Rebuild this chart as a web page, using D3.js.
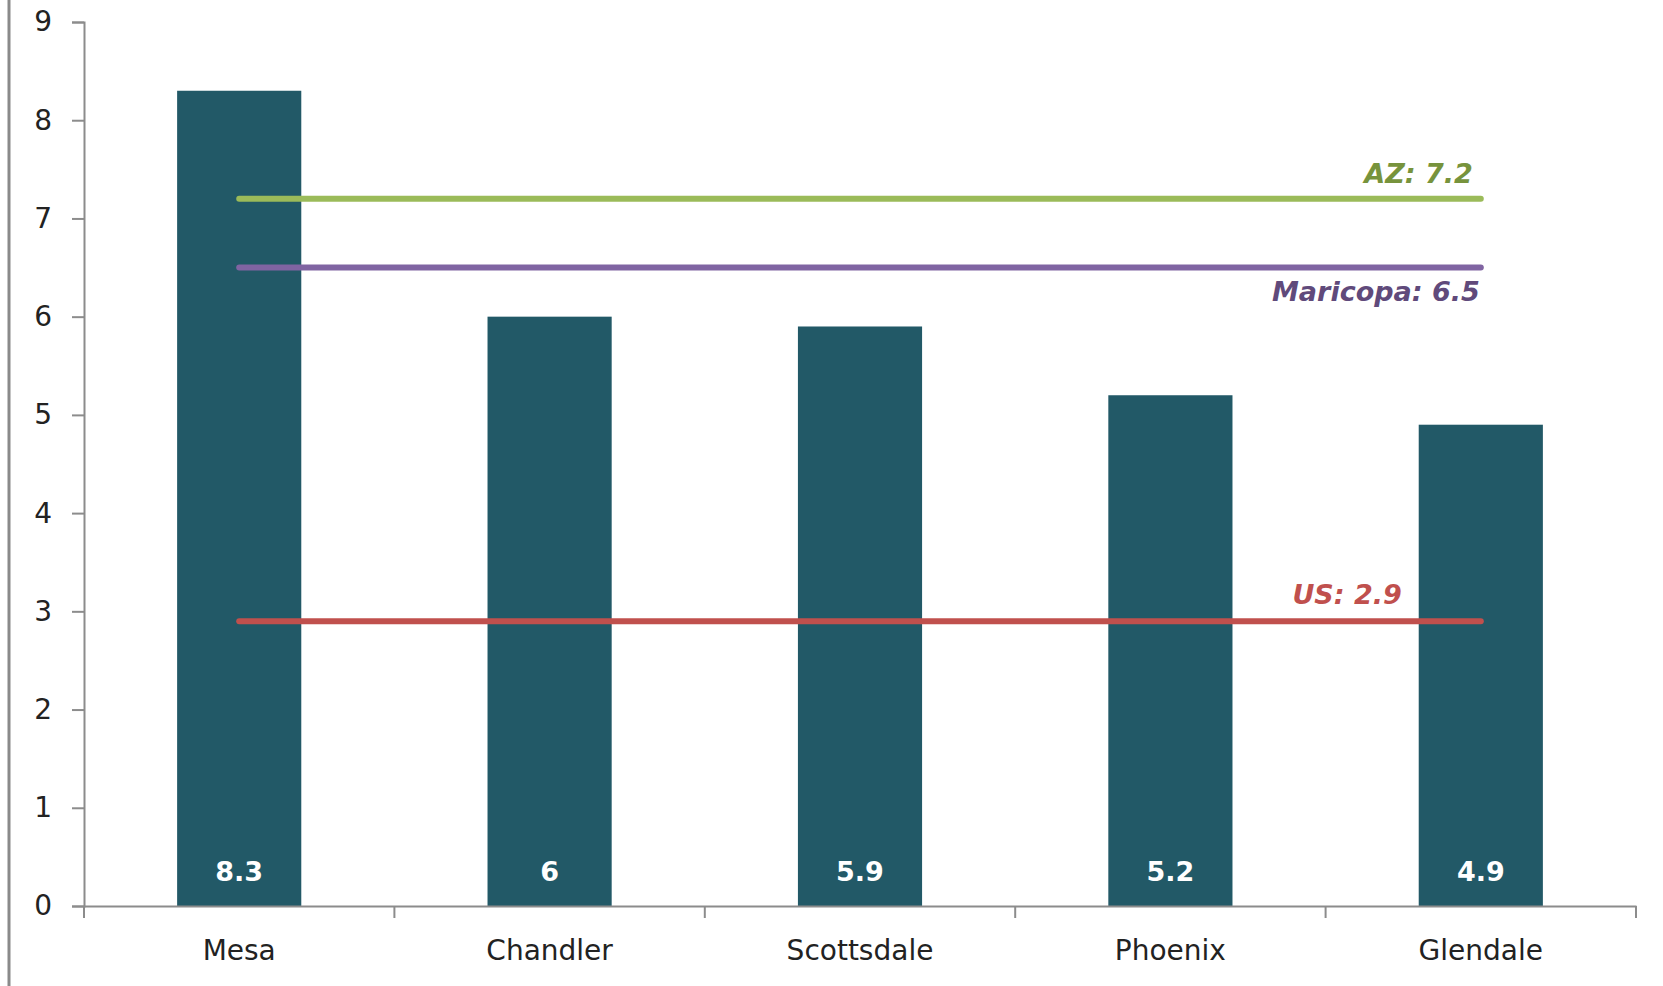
<!DOCTYPE html>
<html><head><meta charset="utf-8">
<script src="https://cdn.jsdelivr.net/npm/d3@7"></script>
<style>
html,body{margin:0;padding:0;background:#fff;}
svg{display:block;font-family:"DejaVu Sans",sans-serif;}
</style></head>
<body>
<svg id="chart" width="1663" height="986"></svg>
<script>
const categories = ["Mesa","Chandler","Scottsdale","Phoenix","Glendale"];
const values = [8.3, 6, 5.9, 5.2, 4.9];
const refNames = ["AZ","Maricopa","US"];
const refValues = [7.2, 6.5, 2.9];
const refColors = ["#9BBB59","#8064A2","#C0504D"];
const refTextColors = ["#77933C","#604A7B","#C0504D"];
const yTicks = [0,1,2,3,4,5,6,7,8,9];

(function(){
const FONT = "'DejaVu Sans',sans-serif";
const svg = d3.select("#chart");
const mLeft = 84, mRight = 1636, mTop = 22, mBottom = 906;

const x = d3.scaleBand().domain(categories).range([mLeft, mRight]).paddingInner(0.6).paddingOuter(0.3);
const xb = d3.scaleBand().domain(categories).range([mLeft, mRight]).padding(0);
const y = d3.scaleLinear().domain([0, 9]).range([mBottom, mTop]);

// left frame line
svg.append("line").attr("x1", 9).attr("x2", 9).attr("y1", 0).attr("y2", 986)
  .attr("stroke", "#8a8a8a").attr("stroke-width", 3);

// bars
svg.append("g").selectAll("rect").data(values).join("rect")
  .attr("x", (d,i) => x(categories[i]))
  .attr("width", x.bandwidth())
  .attr("y", d => y(d))
  .attr("height", d => y(0) - y(d))
  .attr("fill", "#225967");

// bar value labels
svg.append("g").selectAll("text").data(values).join("text")
  .attr("x", (d,i) => x(categories[i]) + x.bandwidth()/2)
  .attr("y", y(0) - 34)
  .attr("dy", "0.35em")
  .attr("text-anchor", "middle")
  .attr("font-family", FONT)
  .attr("fill", "#fff").attr("font-weight", "bold").attr("font-size", 27)
  .text(d => d3.format("")(d));

// y axis
const yAxis = d3.axisLeft(y).tickValues(yTicks).tickSize(12).tickPadding(20).tickFormat(d3.format("d"));
const gy = svg.append("g").attr("transform", `translate(${mLeft},0)`).call(yAxis);
gy.select(".domain").attr("stroke", "#8c8c8c").attr("stroke-width", 2);
gy.selectAll(".tick line").attr("stroke", "#8c8c8c").attr("stroke-width", 2);
gy.selectAll(".tick text").attr("font-size", 28).attr("fill", "#222").attr("font-family", FONT);

// x axis
const xAxis = d3.axisBottom(xb).tickSize(0).tickPadding(0);
const gx = svg.append("g").attr("transform", `translate(0,${mBottom})`).call(xAxis);
gx.select(".domain").attr("stroke", "#8c8c8c").attr("stroke-width", 2);
gx.selectAll(".tick text").attr("font-size", 28).attr("fill", "#222")
  .attr("font-family", FONT).attr("dy", 0).attr("y", 54);
// category boundary ticks
const bounds = categories.map(c => xb(c)).concat([mRight]);
svg.append("g").selectAll("line").data(bounds).join("line")
  .attr("x1", d => d).attr("x2", d => d)
  .attr("y1", mBottom).attr("y2", mBottom + 12)
  .attr("stroke", "#8c8c8c").attr("stroke-width", 2);

// reference lines
const x0 = xb(categories[0]) + xb.bandwidth()/2;
const x1 = xb(categories[categories.length-1]) + xb.bandwidth()/2;
svg.append("g").selectAll("line").data(refValues).join("line")
  .attr("x1", x0).attr("x2", x1)
  .attr("y1", d => y(d)).attr("y2", d => y(d))
  .attr("stroke", (d,i) => refColors[i])
  .attr("stroke-width", 6).attr("stroke-linecap", "round");

// reference labels
const labelOffsets = [{dx:-8, dy:-16}, {dx:-1, dy:33}, {dx:-79, dy:-17}];
svg.append("g").selectAll("text").data(refValues).join("text")
  .attr("x", (d,i) => x1 + labelOffsets[i].dx)
  .attr("y", (d,i) => y(d) + labelOffsets[i].dy)
  .attr("text-anchor", "end")
  .attr("font-family", FONT)
  .attr("font-weight", "bold").attr("font-style", "italic").attr("font-size", 27)
  .attr("fill", (d,i) => refTextColors[i])
  .text((d,i) => `${refNames[i]}: ${d}`);
})();
</script>
</body></html>
